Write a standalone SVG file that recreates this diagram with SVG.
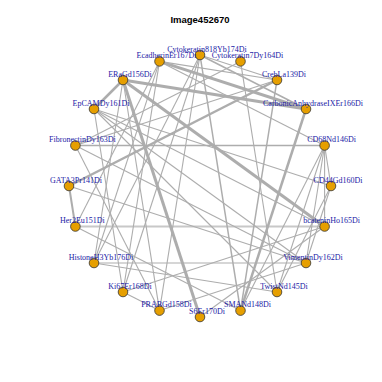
<svg xmlns="http://www.w3.org/2000/svg" width="382" height="382" viewBox="0 0 382 382">
<style>
.e{stroke:#adadad;fill:none}
.n{fill:#e69f00;stroke:#333333;stroke-width:0.8}
.l{font-family:"Liberation Serif",serif;font-size:8px;fill:#1a1aa6;text-anchor:middle}
.t{font-family:"Liberation Sans",sans-serif;font-size:9.5px;font-weight:bold;fill:#000;text-anchor:middle}
</style>
<rect width="382" height="382" fill="#ffffff"/>
<text class="t" x="200" y="23">Image452670</text>
<g id="edges">
<line class="e" x1="75.4" y1="145.5" x2="324.6" y2="145.5" stroke-width="1.3"/>
<line class="e" x1="75.4" y1="226.5" x2="324.6" y2="226.5" stroke-width="2" style="stroke:#c8c8c8"/>
<line class="e" x1="69" y1="186" x2="75.4" y2="226.5" stroke-width="2"/>
<line class="e" x1="123" y1="80" x2="94" y2="109" stroke-width="2.5"/>
<line class="e" x1="324.6" y1="145.5" x2="331" y2="186" stroke-width="1.1"/>
<line class="e" x1="324.6" y1="145.5" x2="324.6" y2="226.5" stroke-width="1.1"/>
<line class="e" x1="123" y1="80" x2="306" y2="109" stroke-width="3"/>
<line class="e" x1="159.5" y1="61.4" x2="306" y2="109" stroke-width="3"/>
<line class="e" x1="123" y1="80" x2="200" y2="317" stroke-width="3"/>
<line class="e" x1="123" y1="80" x2="324.6" y2="226.5" stroke-width="3"/>
<line class="e" x1="69" y1="186" x2="277" y2="80" stroke-width="2.5"/>
<line class="e" x1="306" y1="109" x2="240.5" y2="310.6" stroke-width="2.5"/>
<line class="e" x1="200" y1="55" x2="240.5" y2="310.6" stroke-width="1.5"/>
<line class="e" x1="240.5" y1="61.4" x2="277" y2="292" stroke-width="1.1"/>
<line class="e" x1="159.5" y1="61.4" x2="277" y2="80" stroke-width="1.1"/>
<line class="e" x1="200" y1="55" x2="123" y2="292" stroke-width="1.1"/>
<line class="e" x1="159.5" y1="61.4" x2="94" y2="263" stroke-width="1.1"/>
<line class="e" x1="159.5" y1="61.4" x2="123" y2="292" stroke-width="1.1"/>
<line class="e" x1="94" y1="109" x2="306" y2="263" stroke-width="1.1"/>
<line class="e" x1="94" y1="109" x2="331" y2="186" stroke-width="1.1"/>
<line class="e" x1="94" y1="263" x2="277" y2="292" stroke-width="1.1"/>
<line class="e" x1="123" y1="292" x2="324.6" y2="226.5" stroke-width="1.1"/>
<line class="e" x1="123" y1="292" x2="159.5" y2="310.6" stroke-width="1.1"/>
<line class="e" x1="200" y1="317" x2="324.6" y2="226.5" stroke-width="1.1"/>
<line class="e" x1="240.5" y1="310.6" x2="277" y2="80" stroke-width="1.5"/>
<line class="e" x1="277" y1="292" x2="324.6" y2="145.5" stroke-width="1.1"/>
<line class="e" x1="277" y1="292" x2="331" y2="186" stroke-width="1.1"/>
<line class="e" x1="306" y1="263" x2="324.6" y2="145.5" stroke-width="1.1"/>
<line class="e" x1="306" y1="263" x2="331" y2="186" stroke-width="1.1"/>
<line class="e" x1="159.5" y1="61.4" x2="324.6" y2="145.5" stroke-width="1.1"/>
<line class="e" x1="75.4" y1="226.5" x2="240.5" y2="310.6" stroke-width="1.1"/>
<line class="e" x1="75.4" y1="145.5" x2="159.5" y2="310.6" stroke-width="1.1"/>
<line class="e" x1="94" y1="263" x2="306" y2="263" stroke-width="1.1"/>
<line class="e" x1="159.5" y1="310.6" x2="306" y2="263" stroke-width="1.1"/>
<line class="e" x1="75.4" y1="145.5" x2="277" y2="80" stroke-width="1.1"/>
<line class="e" x1="94" y1="109" x2="277" y2="292" stroke-width="1.1"/>
<line class="e" x1="240.5" y1="61.4" x2="75.4" y2="145.5" stroke-width="1.1"/>
<line class="e" x1="200" y1="55" x2="94" y2="263" stroke-width="1.1"/>
<line class="e" x1="159.5" y1="310.6" x2="123" y2="80" stroke-width="1.1"/>
<line class="e" x1="200" y1="55" x2="306" y2="109" stroke-width="1.5"/>
<line class="e" x1="94" y1="109" x2="324.6" y2="226.5" stroke-width="1.1"/>
<line class="e" x1="75.4" y1="145.5" x2="306" y2="263" stroke-width="1.1"/>
<line class="e" x1="324.6" y1="145.5" x2="240.5" y2="310.6" stroke-width="1.1"/>
<line class="e" x1="123" y1="292" x2="94" y2="109" stroke-width="1.1"/>
<line class="e" x1="94" y1="263" x2="123" y2="80" stroke-width="1.1"/>
<line class="e" x1="159.5" y1="310.6" x2="200" y2="55" stroke-width="1.1"/>
<line class="e" x1="69" y1="186" x2="306" y2="263" stroke-width="1.1"/>
<line class="e" x1="200" y1="55" x2="277" y2="80" stroke-width="1.1"/>
<line class="e" x1="75.4" y1="226.5" x2="159.5" y2="61.4" stroke-width="1.1"/>
</g>
<g id="n-Cytokeratin818Yb174Di"><circle class="n" cx="200" cy="55" r="4.8"/><text class="l" x="207" y="51.5">Cytokeratin818Yb174Di</text></g>
<g id="n-Cytokeratin7Dy164Di"><circle class="n" cx="240.5" cy="61.4" r="4.8"/><text class="l" x="247.5" y="57.9">Cytokeratin7Dy164Di</text></g>
<g id="n-CrebLa139Di"><circle class="n" cx="277" cy="80" r="4.8"/><text class="l" x="284" y="76.5">CrebLa139Di</text></g>
<g id="n-CarbonicAnhydraseIXEr166Di"><circle class="n" cx="306" cy="109" r="4.8"/><text class="l" x="313" y="105.5">CarbonicAnhydraseIXEr166Di</text></g>
<g id="n-CD68Nd146Di"><circle class="n" cx="324.6" cy="145.5" r="4.8"/><text class="l" x="331.6" y="142">CD68Nd146Di</text></g>
<g id="n-CD44Gd160Di"><circle class="n" cx="331" cy="186" r="4.8"/><text class="l" x="338" y="182.5">CD44Gd160Di</text></g>
<g id="n-bcateninHo165Di"><circle class="n" cx="324.6" cy="226.5" r="4.8"/><text class="l" x="331.6" y="223">bcateninHo165Di</text></g>
<g id="n-VimentinDy162Di"><circle class="n" cx="306" cy="263" r="4.8"/><text class="l" x="313" y="259.5">VimentinDy162Di</text></g>
<g id="n-TwistNd145Di"><circle class="n" cx="277" cy="292" r="4.8"/><text class="l" x="284" y="288.5">TwistNd145Di</text></g>
<g id="n-SMANd148Di"><circle class="n" cx="240.5" cy="310.6" r="4.8"/><text class="l" x="247.5" y="307.1">SMANd148Di</text></g>
<g id="n-S6Er170Di"><circle class="n" cx="200" cy="317" r="4.8"/><text class="l" x="207" y="313.5">S6Er170Di</text></g>
<g id="n-PRABGd158Di"><circle class="n" cx="159.5" cy="310.6" r="4.8"/><text class="l" x="166.5" y="307.1">PRABGd158Di</text></g>
<g id="n-Ki67Er168Di"><circle class="n" cx="123" cy="292" r="4.8"/><text class="l" x="130" y="288.5">Ki67Er168Di</text></g>
<g id="n-HistoneH3Yb176Di"><circle class="n" cx="94" cy="263" r="4.8"/><text class="l" x="101" y="259.5">HistoneH3Yb176Di</text></g>
<g id="n-Her2Eu151Di"><circle class="n" cx="75.4" cy="226.5" r="4.8"/><text class="l" x="82.4" y="223">Her2Eu151Di</text></g>
<g id="n-GATA3Pr141Di"><circle class="n" cx="69" cy="186" r="4.8"/><text class="l" x="76" y="182.5">GATA3Pr141Di</text></g>
<g id="n-FibronectinDy163Di"><circle class="n" cx="75.4" cy="145.5" r="4.8"/><text class="l" x="82.4" y="142">FibronectinDy163Di</text></g>
<g id="n-EpCAMDy161Di"><circle class="n" cx="94" cy="109" r="4.8"/><text class="l" x="101" y="105.5">EpCAMDy161Di</text></g>
<g id="n-ERaGd156Di"><circle class="n" cx="123" cy="80" r="4.8"/><text class="l" x="130" y="76.5">ERaGd156Di</text></g>
<g id="n-EcadherinEr167Di"><circle class="n" cx="159.5" cy="61.4" r="4.8"/><text class="l" x="166.5" y="57.9">EcadherinEr167Di</text></g>
</svg>
